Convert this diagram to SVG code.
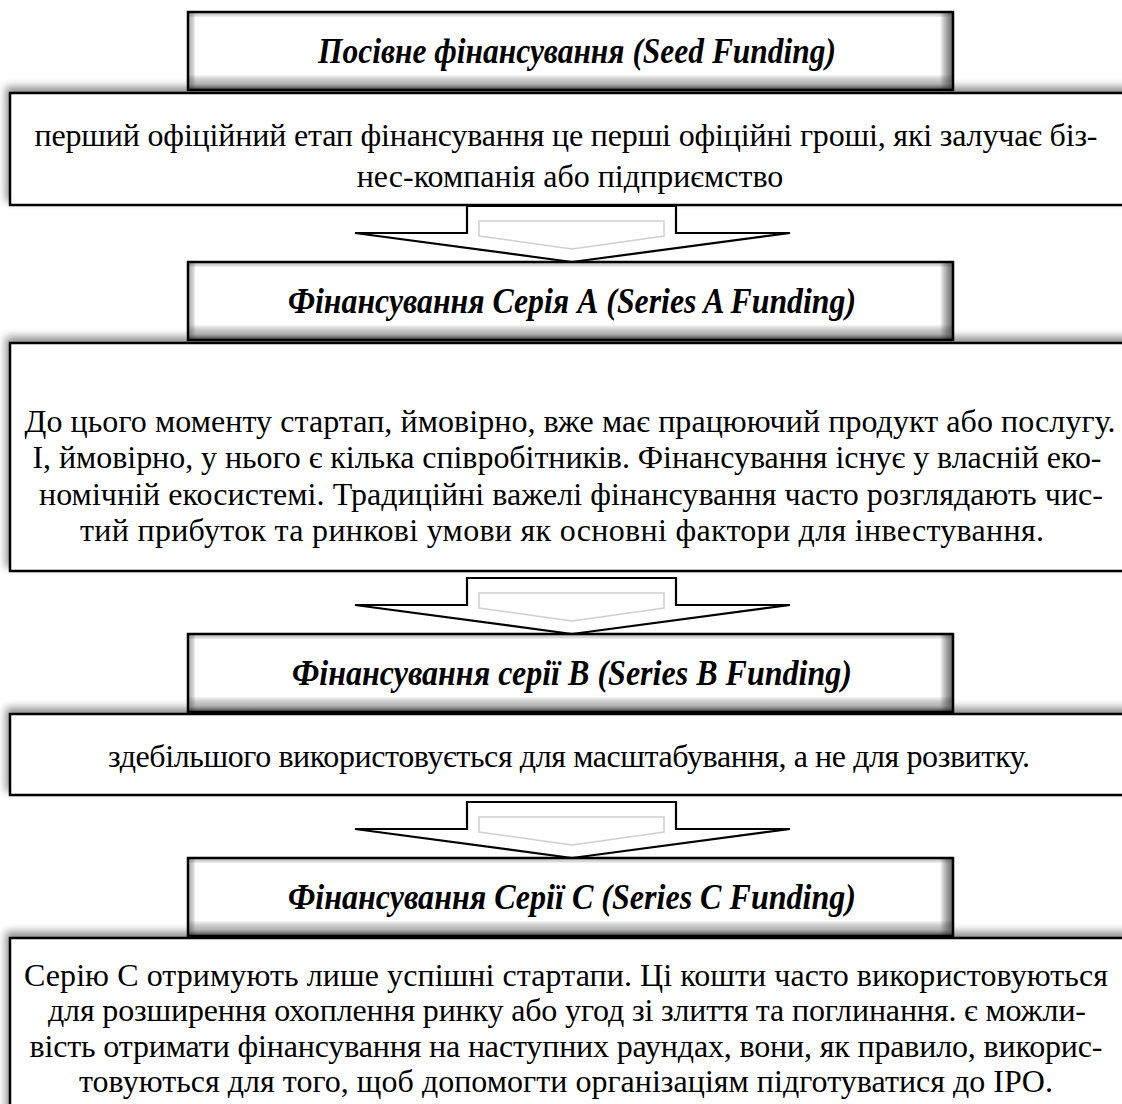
<svg xmlns="http://www.w3.org/2000/svg" width="1122" height="1104" viewBox="0 0 1122 1104">
<style>
.box{fill:#fff;stroke:#000;stroke-width:2.5}
.hdr{fill:#fff}
.hdrline{fill:none;stroke:#000;stroke-width:2.5}
.ht{font-family:"Liberation Serif","Times New Roman",serif;font-weight:bold;font-style:italic;font-size:36px;text-anchor:middle;fill:#000}
.bt{font-family:"Liberation Serif","Times New Roman",serif;font-size:32px;text-anchor:middle;fill:#000}
.arr{fill:#fff;stroke:#000;stroke-width:2.2;stroke-linejoin:miter}
.arrin{fill:none;stroke:#cfcfcf;stroke-width:1.5}
</style>
<defs>
<filter id="sh" x="-5%" y="-30%" width="110%" height="160%">
<feGaussianBlur in="SourceAlpha" stdDeviation="4"/>
<feOffset dx="-3" dy="-5" result="o"/>
<feComponentTransfer><feFuncA type="linear" slope="0.45"/></feComponentTransfer>
<feMerge><feMergeNode/><feMergeNode in="SourceGraphic"/></feMerge>
</filter>
<linearGradient id="gB" x1="0" y1="0" x2="0" y2="1">
<stop offset="0" stop-color="#000" stop-opacity="0"/>
<stop offset="0.8" stop-color="#000" stop-opacity="0"/>
<stop offset="0.92" stop-color="#555" stop-opacity="0.45"/>
<stop offset="1" stop-color="#222" stop-opacity="0.9"/>
</linearGradient>
<linearGradient id="gR" x1="0" y1="0" x2="1" y2="0">
<stop offset="0" stop-color="#000" stop-opacity="0"/>
<stop offset="0.983" stop-color="#000" stop-opacity="0"/>
<stop offset="1" stop-color="#444" stop-opacity="0.8"/>
</linearGradient>
<linearGradient id="gL" x1="0" y1="0" x2="1" y2="0">
<stop offset="0" stop-color="#888" stop-opacity="0.6"/>
<stop offset="0.01" stop-color="#000" stop-opacity="0"/>
</linearGradient>
<linearGradient id="gT" x1="0" y1="0" x2="0" y2="1">
<stop offset="0" stop-color="#999" stop-opacity="0.5"/>
<stop offset="0.07" stop-color="#000" stop-opacity="0"/>
</linearGradient>
<g id="hbg">
<rect class="hdr" x="0" y="0" width="765" height="78"/>
<rect x="0" y="0" width="765" height="78" fill="url(#gT)"/>
<rect x="0" y="0" width="765" height="78" fill="url(#gL)"/>
<rect x="0" y="0" width="765" height="78" fill="url(#gR)"/>
<rect x="0" y="0" width="765" height="78" fill="url(#gB)"/>
<rect class="hdrline" x="0" y="0" width="765" height="78"/>
</g>
<g id="arrow">
<polygon class="arr" points="467,0 676,0 676,27 790,27 572,56 355,27 467,27"/>
<polygon class="arrin" points="479,15 664,15 664,30 572,43 479,30"/>
</g>
</defs>

<g id="box1">
<rect class="box" x="10" y="93" width="1130" height="112" filter="url(#sh)"/>
<text class="bt" x="566" y="146" textLength="1063">перший офіційний етап фінансування це перші офіційні гроші, які залучає біз-</text>
<text class="bt" x="570" y="187">нес-компанія або підприємство</text>
</g>
<g id="box2">
<rect class="box" x="10" y="343" width="1130" height="228" filter="url(#sh)"/>
<text class="bt" x="570" y="432" textLength="1091">До цього моменту стартап, ймовірно, вже має працюючий продукт або послугу.</text>
<text class="bt" x="567" y="468" textLength="1069">І, ймовірно, у нього є кілька співробітників. Фінансування існує у власній еко-</text>
<text class="bt" x="571" y="505" textLength="1064">номічній екосистемі. Традиційні важелі фінансування часто розглядають чис-</text>
<text class="bt" x="562" y="541" textLength="964">тий прибуток та ринкові умови як основні фактори для інвестування.</text>
</g>
<g id="box3">
<rect class="box" x="10" y="714" width="1130" height="81" filter="url(#sh)"/>
<text class="bt" x="569" y="767" textLength="922">здебільшого використовується для масштабування, а не для розвитку.</text>
</g>
<g id="box4">
<rect class="box" x="10" y="938" width="1130" height="180" filter="url(#sh)"/>
<text class="bt" x="566" y="986" textLength="1084">Серію С отримують лише успішні стартапи. Ці кошти часто використовуються</text>
<text class="bt" x="567" y="1021" textLength="1038">для розширення охоплення ринку або угод зі злиття та поглинання. є можли-</text>
<text class="bt" x="566" y="1057" textLength="1073">вість отримати фінансування на наступних раундах, вони, як правило, викорис-</text>
<text class="bt" x="566" y="1092" textLength="974">товуються для того, щоб допомогти організаціям підготуватися до IPO.</text>
</g>

<g id="connectors">
<use href="#arrow" x="0" y="206"/>
<use href="#arrow" x="0" y="578"/>
<use href="#arrow" x="0" y="802"/>
</g>

<g id="header1">
<use href="#hbg" x="188" y="12"/>
<text class="ht" x="577" y="63" textLength="518" lengthAdjust="spacingAndGlyphs">Посівне фінансування (Seed Funding)</text>
</g>
<g id="header2">
<use href="#hbg" x="188" y="262"/>
<text class="ht" x="572" y="313" textLength="568" lengthAdjust="spacingAndGlyphs">Фінансування Серія А (Series A Funding)</text>
</g>
<g id="header3">
<use href="#hbg" x="188" y="634"/>
<text class="ht" x="572" y="685" textLength="560" lengthAdjust="spacingAndGlyphs">Фінансування серії В (Series B Funding)</text>
</g>
<g id="header4">
<use href="#hbg" x="188" y="858"/>
<text class="ht" x="572" y="909" textLength="568" lengthAdjust="spacingAndGlyphs">Фінансування Серії С (Series C Funding)</text>
</g>
</svg>
